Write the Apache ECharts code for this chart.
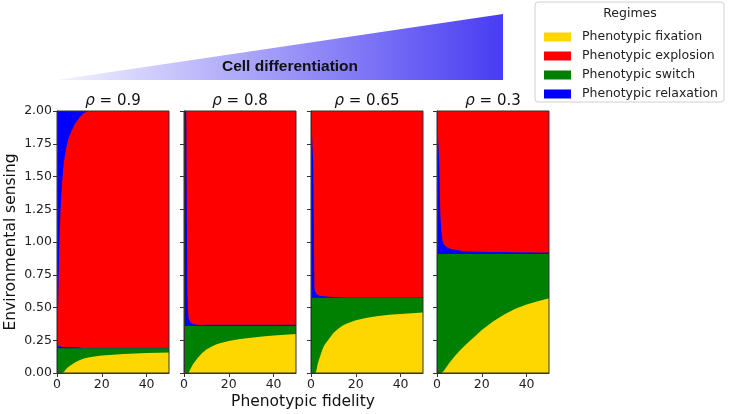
<!DOCTYPE html>
<html>
<head>
<meta charset="utf-8">
<script src="https://cdn.jsdelivr.net/npm/echarts@6/dist/echarts.min.js"></script>
<style>
  html, body { margin: 0; padding: 0; background: #fff; }
  #chart { width: 730px; height: 414px; }
</style>
</head>
<body>
<div id="chart"></div>
<script>
// phenotypic fidelity (x) sample points
const fidelity = [0, 0.5, 1, 1.5, 2, 2.5, 3, 4, 5, 6, 8, 10, 12, 14, 16, 20, 25, 30, 35, 40, 45, 50];

const rhoLabels = ['0.9', '0.8', '0.65', '0.3'];

// top of the yellow region (phenotypic fixation)
const fixation09 = [0, 0, 0, 0, 0, 0, 0.006, 0.028, 0.045, 0.057, 0.08, 0.098, 0.11, 0.118, 0.124, 0.133, 0.14, 0.145, 0.149, 0.152, 0.155, 0.157];
const fixation08 = [0, 0, 0, 0, 0, 0.008, 0.035, 0.066, 0.09, 0.112, 0.15, 0.18, 0.198, 0.215, 0.227, 0.245, 0.26, 0.27, 0.279, 0.286, 0.292, 0.298];
const fixation065 = [0, 0, 0, 0, 0, 0.025, 0.07, 0.125, 0.175, 0.213, 0.26, 0.305, 0.335, 0.36, 0.378, 0.402, 0.422, 0.435, 0.444, 0.451, 0.457, 0.462];
const fixation03 = [0, 0, 0, 0, 0, 0.003, 0.015, 0.04, 0.065, 0.087, 0.13, 0.168, 0.203, 0.235, 0.265, 0.328, 0.394, 0.447, 0.49, 0.522, 0.548, 0.57];

// top of the green region (phenotypic switch), one level per panel
const switchTop = [0.188, 0.358, 0.575, 0.908];

// top of the lower blue strip (phenotypic relaxation) sitting on the switch level
const relaxLow09 = [0.215, 0.21, 0.205, 0.2, 0.2, 0.198, 0.198, 0.198, 0.198, 0.198, 0.197, 0.195, 0.188, 0.188, 0.188, 0.188, 0.188, 0.188, 0.188, 0.188, 0.188, 0.188];
const relaxLow08 = [2, 2, 2, 0.6, 0.42, 0.395, 0.385, 0.375, 0.37, 0.368, 0.368, 0.368, 0.368, 0.368, 0.368, 0.368, 0.368, 0.368, 0.368, 0.368, 0.368, 0.368];
const relaxLow065 = [2, 2, 1.6, 0.65, 0.612, 0.602, 0.595, 0.59, 0.587, 0.585, 0.582, 0.58, 0.578, 0.577, 0.577, 0.577, 0.577, 0.577, 0.577, 0.577, 0.577, 0.577];
const relaxLow03 = [2, 2, 1.6, 1.2, 1.07, 1.01, 0.985, 0.965, 0.955, 0.948, 0.94, 0.935, 0.932, 0.93, 0.928, 0.926, 0.924, 0.923, 0.922, 0.921, 0.92, 0.92];

// top of the red region (phenotypic explosion); above it is relaxation
const explosion09 = [0.19, 0.5, 0.95, 1.22, 1.38, 1.5, 1.6, 1.71, 1.78, 1.83, 1.9, 1.95, 1.985, 2, 2, 2, 2, 2, 2, 2, 2, 2];
const explosion08 = [2, 2, 2, 2, 2, 2, 2, 2, 2, 2, 2, 2, 2, 2, 2, 2, 2, 2, 2, 2, 2, 2];
const explosion065 = [2, 2, 2, 2, 2, 2, 2, 2, 2, 2, 2, 2, 2, 2, 2, 2, 2, 2, 2, 2, 2, 2];
const explosion03 = [2, 2, 2, 2, 2, 2, 2, 2, 2, 2, 2, 2, 2, 2, 2, 2, 2, 2, 2, 2, 2, 2];

const yMax = 2;

const panels = [
  { fix: fixation09, low: relaxLow09, exp: explosion09 },
  { fix: fixation08, low: relaxLow08, exp: explosion08 },
  { fix: fixation065, low: relaxLow065, exp: explosion065 },
  { fix: fixation03, low: relaxLow03, exp: explosion03 },
];

const FONT = 'DejaVu Sans';
const C = { fix: '#ffd700', exp: '#ff0000', sw: '#008000', rel: '#0000ff' };
const NAMES = {
  fix: 'Phenotypic fixation',
  exp: 'Phenotypic explosion',
  sw: 'Phenotypic switch',
  rel: 'Phenotypic relaxation',
};

const gridLeft = [57, 184, 311, 437];
const gridTop = 111;
const gridW = 112;
const gridH = 262;

const chart = echarts.init(document.getElementById('chart'));

const area = (name, color, idx, vals, z) => ({
  name,
  type: 'line',
  xAxisIndex: idx,
  yAxisIndex: idx,
  data: fidelity.map((x, i) => [x, vals[i]]),
  symbol: 'none',
  lineStyle: { width: 0 },
  areaStyle: { color, opacity: 1 },
  itemStyle: { color },
  z,
  silent: true,
});

const series = [];
panels.forEach((p, i) => {
  series.push(area(NAMES.rel, C.rel, i, fidelity.map(() => yMax), 2));
  series.push(area(NAMES.exp, C.exp, i, p.exp, 3));
  series.push(area(NAMES.rel, C.rel, i, p.low, 4));
  series.push(area(NAMES.sw, C.sw, i, fidelity.map(() => switchTop[i]), 5));
  series.push(area(NAMES.fix, C.fix, i, p.fix, 6));
});

const axisCommon = {
  axisLine: { show: true, lineStyle: { color: '#333', width: 1 } },
  axisTick: { show: true, length: 4, lineStyle: { color: '#333' } },
  splitLine: { show: false },
  z: 10,
};

const option = {
  animation: false,
  grid: gridLeft.map((l) => ({
    left: l, top: gridTop, width: gridW, height: gridH,
    show: true, borderColor: '#333', borderWidth: 1,
    backgroundColor: 'transparent', z: 10,
  })),
  xAxis: gridLeft.map((l, i) => ({
    ...axisCommon,
    type: 'value', gridIndex: i, min: 0, max: 50,
    axisTick: { ...axisCommon.axisTick, customValues: [0, 20, 40] },
    axisLabel: {
      customValues: [0, 20, 40],
      fontFamily: FONT, fontSize: 12.5, color: '#222', margin: 5,
    },
  })),
  yAxis: gridLeft.map((l, i) => ({
    ...axisCommon,
    type: 'value', gridIndex: i, min: 0, max: yMax, interval: 0.25,
    axisLabel: {
      show: i === 0,
      fontFamily: FONT, fontSize: 12.5, color: '#222', margin: 5,
      formatter: (v) => v.toFixed(2),
    },
    name: i === 0 ? 'Environmental sensing' : '',
    nameLocation: 'middle',
    nameGap: 38,
    nameTextStyle: { fontFamily: FONT, fontSize: 15.5, color: '#111' },
  })),
  legend: {
    data: [NAMES.fix, NAMES.exp, NAMES.sw, NAMES.rel],
    orient: 'vertical',
    left: 539,
    top: 25,
    icon: 'rect',
    itemWidth: 27,
    itemHeight: 9,
    itemGap: 5,
    selectedMode: false,
    textStyle: {
      fontFamily: FONT, fontSize: 12.5, color: '#222',
      lineHeight: 14, padding: [0, 0, 0, 6],
    },
  },
  graphic: [
    {
      type: 'polygon',
      shape: { points: [[57, 80], [503, 80], [503, 14]] },
      style: {
        fill: new echarts.graphic.LinearGradient(0, 0, 1, 0, [
          { offset: 0, color: '#f4f4fe' },
          { offset: 1, color: '#483cf2' },
        ]),
      },
    },
    {
      type: 'text',
      x: 290, y: 67,
      style: {
        text: 'Cell differentiation',
        fontFamily: 'Liberation Sans', fontWeight: 'bold', fontSize: 15.5,
        fill: '#111', align: 'center', verticalAlign: 'middle',
      },
    },
    {
      type: 'rect',
      shape: { x: 535, y: 2, width: 189, height: 100, r: 3 },
      style: { fill: 'rgba(255,255,255,0.8)', stroke: '#d0d0d0', lineWidth: 1 },
    },
    {
      type: 'text',
      x: 630, y: 14,
      style: {
        text: 'Regimes', fontFamily: FONT, fontSize: 12.5, fill: '#222',
        align: 'center', verticalAlign: 'middle',
      },
    },
    {
      type: 'text',
      x: 303, y: 402,
      style: {
        text: 'Phenotypic fidelity', fontFamily: FONT, fontSize: 15.5, fill: '#111',
        align: 'center', verticalAlign: 'middle',
      },
    },
    ...gridLeft.map((l, i) => ({
      type: 'text',
      x: l + gridW / 2, y: 101,
      style: {
        text: '{i|ρ} = ' + rhoLabels[i],
        fontFamily: FONT, fontSize: 15, fill: '#111',
        align: 'center', verticalAlign: 'middle',
        rich: { i: { fontFamily: FONT, fontSize: 15, fontStyle: 'italic', fill: '#111' } },
      },
    })),
  ],
  series,
};

chart.setOption(option);
</script>
</body>
</html>
